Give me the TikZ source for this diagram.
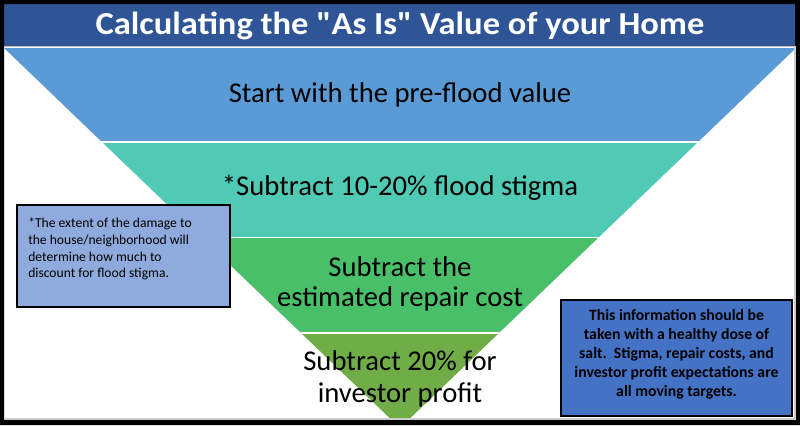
\documentclass[tikz,border=0pt]{standalone}
\usepackage{fontspec}
\setmainfont{Carlito}[Ligatures=TeXOff]
\definecolor{titleblue}{HTML}{2F5597}
\definecolor{bandA}{HTML}{5B9BD5}
\definecolor{bandB}{HTML}{50C9B5}
\definecolor{bandC}{HTML}{48BF68}
\definecolor{bandD}{HTML}{70AD47}
\definecolor{noteA}{HTML}{8FAADC}
\definecolor{noteB}{HTML}{4472C4}
\tikzset{
  bandtext/.style={font=\fontsize{21.5}{22.5}\selectfont, align=center, text=black},
  notebox/.style={draw=black, line width=1pt},
}
\begin{document}
\begin{tikzpicture}[x=0.75pt,y=-0.75pt]
\useasboundingbox (0,0) rectangle (800,425);
\fill[white] (0,0) rectangle (800,425);
% title bar
\fill[titleblue] (4,4) rectangle (795,46);
\draw[gray!50, line width=1pt] (4,46.6) -- (795,46.6);
\node[font=\fontsize{24}{26}\selectfont\bfseries, text=white, xscale=1.08] (title) at (400,26) {Calculating the "As Is" Value of your Home};
% funnel
\begin{scope}
  \clip (4,48) rectangle (795,418.5);
  \clip (4,48) -- (796,48) -- (400,428) -- cycle;
  \fill[bandA] (0,48) rectangle (800,141.3);
  \fill[bandB] (0,143) rectangle (800,236.6);
  \fill[bandC] (0,238.3) rectangle (800,331.8);
  \fill[bandD] (0,333.5) rectangle (800,430);
\end{scope}
\node[bandtext] (b1) at (400,95) {Start with the pre-flood value};
\node[bandtext] (b2) at (400,188) {*Subtract 10-20\% flood stigma};
\node[bandtext] (b3) at (400,284) {Subtract the\\estimated repair cost};
\node[bandtext, font=\fontsize{21.5}{24}\selectfont] (b4) at (400,379) {Subtract 20\% for\\investor profit};
% left note
\draw[notebox, fill=noteA] (17,205) rectangle (230,307);
\node[anchor=north west, align=left, inner sep=0pt, font=\fontsize{10.2}{12.5}\selectfont] (n1) at (28,218)
  {*The extent of the damage to\\the house/neighborhood will\\determine how much to\\discount for flood stigma.};
% right note
\draw[notebox, fill=noteB] (561,300) rectangle (792,416);
\node[align=center, inner sep=0pt, font=\fontsize{11.8}{14.3}\selectfont\bfseries] (n2) at (676.5,354)
  {This information should be\\taken with a healthy dose of\\salt.\ \ Stigma, repair costs, and\\investor profit expectations are\\all moving targets.};
% frame
\fill[black, even odd rule] (0,0) rectangle (800,425) (4,4) rectangle (795,419);
\draw[gray!40, line width=0.8pt] (4,419) -- (795,419) -- (795,46);
\end{tikzpicture}
\end{document}
